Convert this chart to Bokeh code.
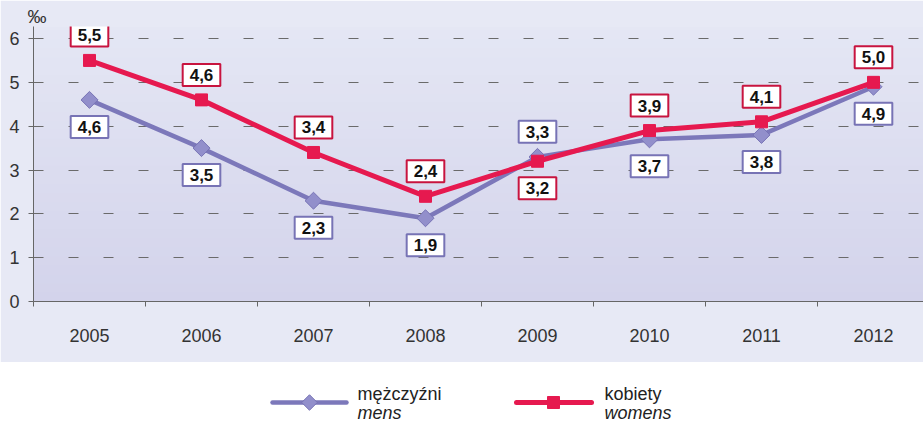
import math
from bokeh.plotting import figure
from bokeh.models import (Range1d, FixedTicker, Label, BoxAnnotation, CustomJSTickFormatter)
from bokeh.layouts import column
from bokeh.core.properties import value
from bokeh.embed import file_html
from bokeh.resources import INLINE

# ---- data ----
years = [2005, 2006, 2007, 2008, 2009, 2010, 2011, 2012]
men = [4.6, 3.5, 2.3, 1.9, 3.3, 3.7, 3.8, 4.9]
women = [5.5, 4.6, 3.4, 2.4, 3.2, 3.9, 4.1, 5.0]
men_label_pos = ["below", "below", "below", "below", "above", "below", "below", "below"]
women_label_pos = ["above", "above", "above", "above", "below", "above", "above", "above"]
y_ticks = [0, 1, 2, 3, 4, 5, 6]
unit = "‰"
men_name = ["mężczyźni", "mens"]
women_name = ["kobiety", "womens"]

W = 923
TOP_H = 362
LEG_H = 59
FONT = "Liberation Sans"

MEN_LINE = "#7c78ba"
MEN_FILL = "#928fcb"
MEN_BORDER = "#7773b5"
WOM_LINE = "#e6194f"
WOM_BORDER = "#c8143f"

TOP_BORDER = 26
p = figure(width=W, height=TOP_H, output_backend="svg", toolbar_location=None,
           x_range=Range1d(2004.5, 2004.5 + 890 / 112.0),
           y_range=Range1d(0, (301 - TOP_BORDER) / 43.83),
           min_border_left=33, min_border_right=0, min_border_top=TOP_BORDER,
           min_border_bottom=61, title=unit)
p.outline_line_color = None
p.background_fill_color = "#dfe1f1"
p.border_fill_color = "#e7e9f5"
p.title.text_font = FONT
p.title.text_font_size = "19px"
p.title.text_font_style = "normal"
p.title.text_color = "#333333"
p.title.align = "left"
p.title.offset = -6
p.title.standoff = 0

# vertical gradient bands (decoration)
top_c = (0xd3, 0xd3, 0xeb)
bot_c = (0xea, 0xed, 0xf7)
nb = 40
for i in range(nb):
    t0 = i / nb
    t = (i + 0.5) / nb
    c = tuple(int(round(top_c[k] + (bot_c[k] - top_c[k]) * t)) for k in range(3))
    p.add_layout(BoxAnnotation(left=0, right=W, top=t0 * TOP_H, bottom=(i + 1) / nb * TOP_H + 1,
                               left_units="screen", right_units="screen",
                               top_units="screen", bottom_units="screen",
                               fill_color="#%02x%02x%02x" % c, fill_alpha=1.0,
                               line_alpha=0, level="image"))

# axes
p.xaxis.ticker = FixedTicker(ticks=years, minor_ticks=[y - 0.5 for y in years] + [years[-1] + 0.5])
p.xaxis.formatter = CustomJSTickFormatter(code="return String(tick);")
p.xaxis.major_tick_out = 0
p.xaxis.major_tick_in = 0
p.xaxis.minor_tick_out = 5
p.xaxis.minor_tick_in = 0
p.xaxis.minor_tick_line_color = "#666666"
p.xaxis.axis_line_color = "#666666"
p.xaxis.major_label_text_font = FONT
p.xaxis.major_label_text_font_size = "18px"
p.xaxis.major_label_text_color = "#333333"
p.xaxis.major_label_standoff = 22

p.yaxis.ticker = FixedTicker(ticks=y_ticks)
p.yaxis.major_tick_out = 5
p.yaxis.major_tick_in = 0
p.yaxis.minor_tick_line_color = None
p.yaxis.major_tick_line_color = "#666666"
p.yaxis.axis_line_color = "#666666"
p.yaxis.major_label_text_font = FONT
p.yaxis.major_label_text_font_size = "18px"
p.yaxis.major_label_text_color = "#333333"
p.yaxis.major_label_standoff = 9

p.xgrid.grid_line_color = None
p.ygrid.ticker = FixedTicker(ticks=y_ticks[1:])
p.ygrid.grid_line_color = "#6a6a6a"
p.ygrid.grid_line_dash = "10 25"
p.ygrid.grid_line_width = 1

# series
p.line(years, men, line_color=MEN_LINE, line_width=4.5)
p.scatter(years, men, marker="square", angle=math.pi / 4, size=12,
          fill_color=MEN_FILL, line_color=MEN_BORDER)
p.line(years, women, line_color=WOM_LINE, line_width=5)
p.scatter(years, women, marker="square", size=12, fill_color=WOM_LINE, line_color=WOM_LINE)

def fmt(v):
    return ("%.1f" % v).replace(".", ",")

def add_labels(vals, pos, border):
    for yr, v, ps in zip(years, vals, pos):
        off = 25 if ps == "above" else -27
        p.add_layout(Label(x=yr, y=v, y_offset=off, text=fmt(v),
                           text_font=FONT, text_font_size="17px", text_font_style="bold",
                           text_color="#111111", text_align="center", text_baseline="middle",
                           background_fill_color="white", border_line_color=border,
                           border_line_width=2, padding=(7, 5)))

add_labels(men, men_label_pos, MEN_BORDER)
add_labels(women, women_label_pos, WOM_BORDER)

# legend figure
lg = figure(width=W, height=LEG_H, output_backend="svg", toolbar_location=None,
            x_range=Range1d(33, W), y_range=Range1d(LEG_H, 0),
            min_border=0, min_border_left=33, x_axis_type=None, y_axis_type=None)
lg.outline_line_color = None
lg.grid.visible = False
lg.background_fill_color = "white"
lg.border_fill_color = "white"

ly = 40
lg.line([272, 346], [ly, ly], line_color=MEN_LINE, line_width=4.5, line_cap="round")
lg.scatter([309], [ly], marker="square", angle=math.pi / 4, size=11,
           fill_color=MEN_FILL, line_color=MEN_BORDER)
lg.line([516, 591], [ly, ly], line_color=WOM_LINE, line_width=5, line_cap="round")
lg.scatter([553], [ly], marker="square", size=12, fill_color=WOM_LINE, line_color=WOM_LINE)
lg.text([357, 604], [31, 31], text=[men_name[0], women_name[0]], text_font=value(FONT),
        text_font_size="18px", text_color="#222222", text_baseline="middle")
lg.text([357, 604], [50, 50], text=[men_name[1], women_name[1]], text_font=value(FONT),
        text_font_size="18px", text_font_style="italic", text_color="#222222",
        text_baseline="middle")

layout = column(p, lg, spacing=0)
open("out.html", "w").write(file_html(layout, INLINE))
